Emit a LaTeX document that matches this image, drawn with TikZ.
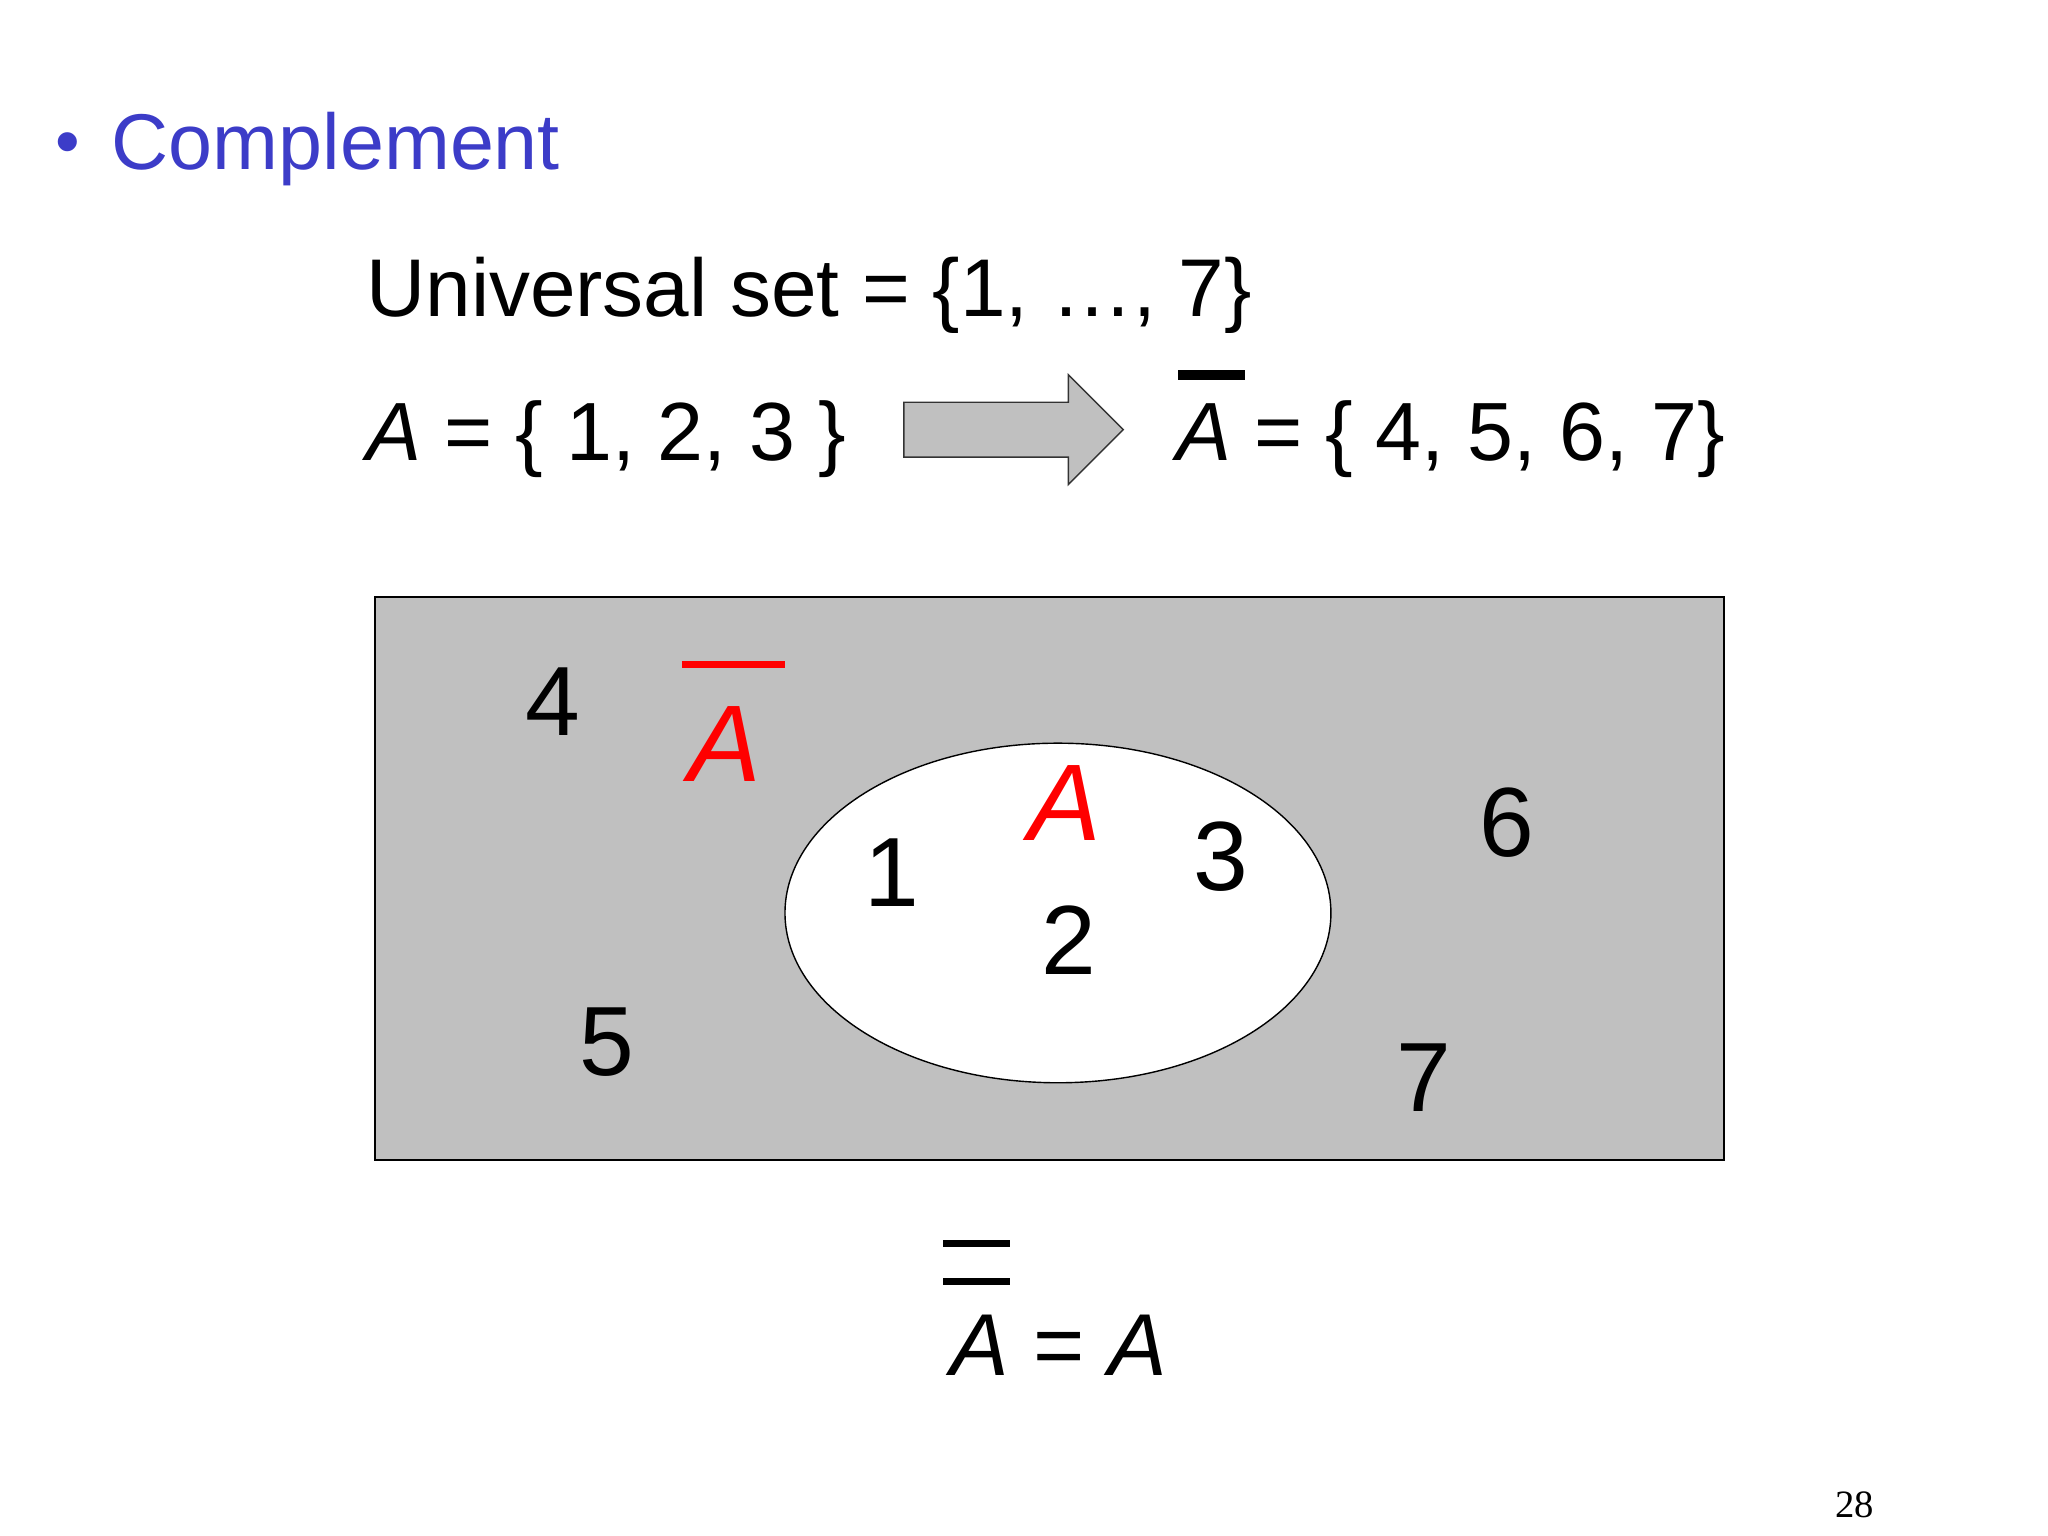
\documentclass[tikz,border=0pt]{standalone}
\usepackage{fontspec}
\setmainfont{Liberation Sans}
\newfontfamily\serifnum{Liberation Serif}
\definecolor{bl}{RGB}{60,60,200}
\definecolor{gr}{RGB}{192,192,192}
\begin{document}
\begin{tikzpicture}[x=0.013061cm,y=-0.013061cm,
  txt/.style={inner sep=0pt,anchor=center},
  num/.style={txt,font=\fontsize{28}{32}\selectfont}]
\useasboundingbox (0,0) rectangle (1568,1176);
\node[txt,text=bl,font=\fontsize{20}{24}\selectfont] (bul) at (52,114) {•};
\node[txt,anchor=west,text=bl,font=\fontsize{22.5}{27}\selectfont] (ttl) at (85,114) {Complement};
\node[txt,anchor=west,font=\fontsize{23.3}{28}\selectfont] (u) at (280,226) {Universal set = \{1, …, 7\}};
\node[txt,anchor=west,font=\fontsize{23.5}{28}\selectfont] (a) at (280,336) {\textit{A} = \{ 1, 2, 3 \}};
\draw[fill=gr,draw=black!80] (692,308) -- (818,308) -- (818,287) -- (860,329) -- (818,371) -- (818,350) -- (692,350) -- cycle;
\node[txt,anchor=west,font=\fontsize{23.5}{28}\selectfont] (ac) at (900,336) {\textit{A} = \{ 4, 5, 6, 7\}};
\draw[line width=3pt] (902,287) -- (953,287);
\draw[fill=gr,draw=black] (287,457) rectangle (1320,888);
\draw[fill=white,draw=black] (810,699) ellipse [x radius=209,y radius=130];
\node[num] (n4) at (423,537) {4};
\node[num] (n5) at (465,798) {5};
\node[num] (n1) at (683,668) {1};
\node[num] (n2) at (818,720) {2};
\node[num] (n3) at (935,656) {3};
\node[num] (n6) at (1154,630) {6};
\node[num] (n7) at (1090,825) {7};
\node[num,text=red,font=\fontsize{31}{36}\selectfont\itshape] (ra) at (555,570) {A};
\draw[red,line width=2pt] (522,509) -- (601,509);
\node[num,text=red,font=\fontsize{31}{36}\selectfont\itshape] (rb) at (815,615) {A};
\draw[line width=2pt] (722,952) -- (773,952);
\draw[line width=2pt] (722,981) -- (773,981);
\node[txt,anchor=west,font=\fontsize{25}{30}\selectfont] (aa) at (727,1030) {\textit{A} = \textit{A}};
\node[txt,font=\serifnum\fontsize{11}{13}\selectfont] (pg) at (1420,1152) {28};
\end{tikzpicture}
\end{document}
